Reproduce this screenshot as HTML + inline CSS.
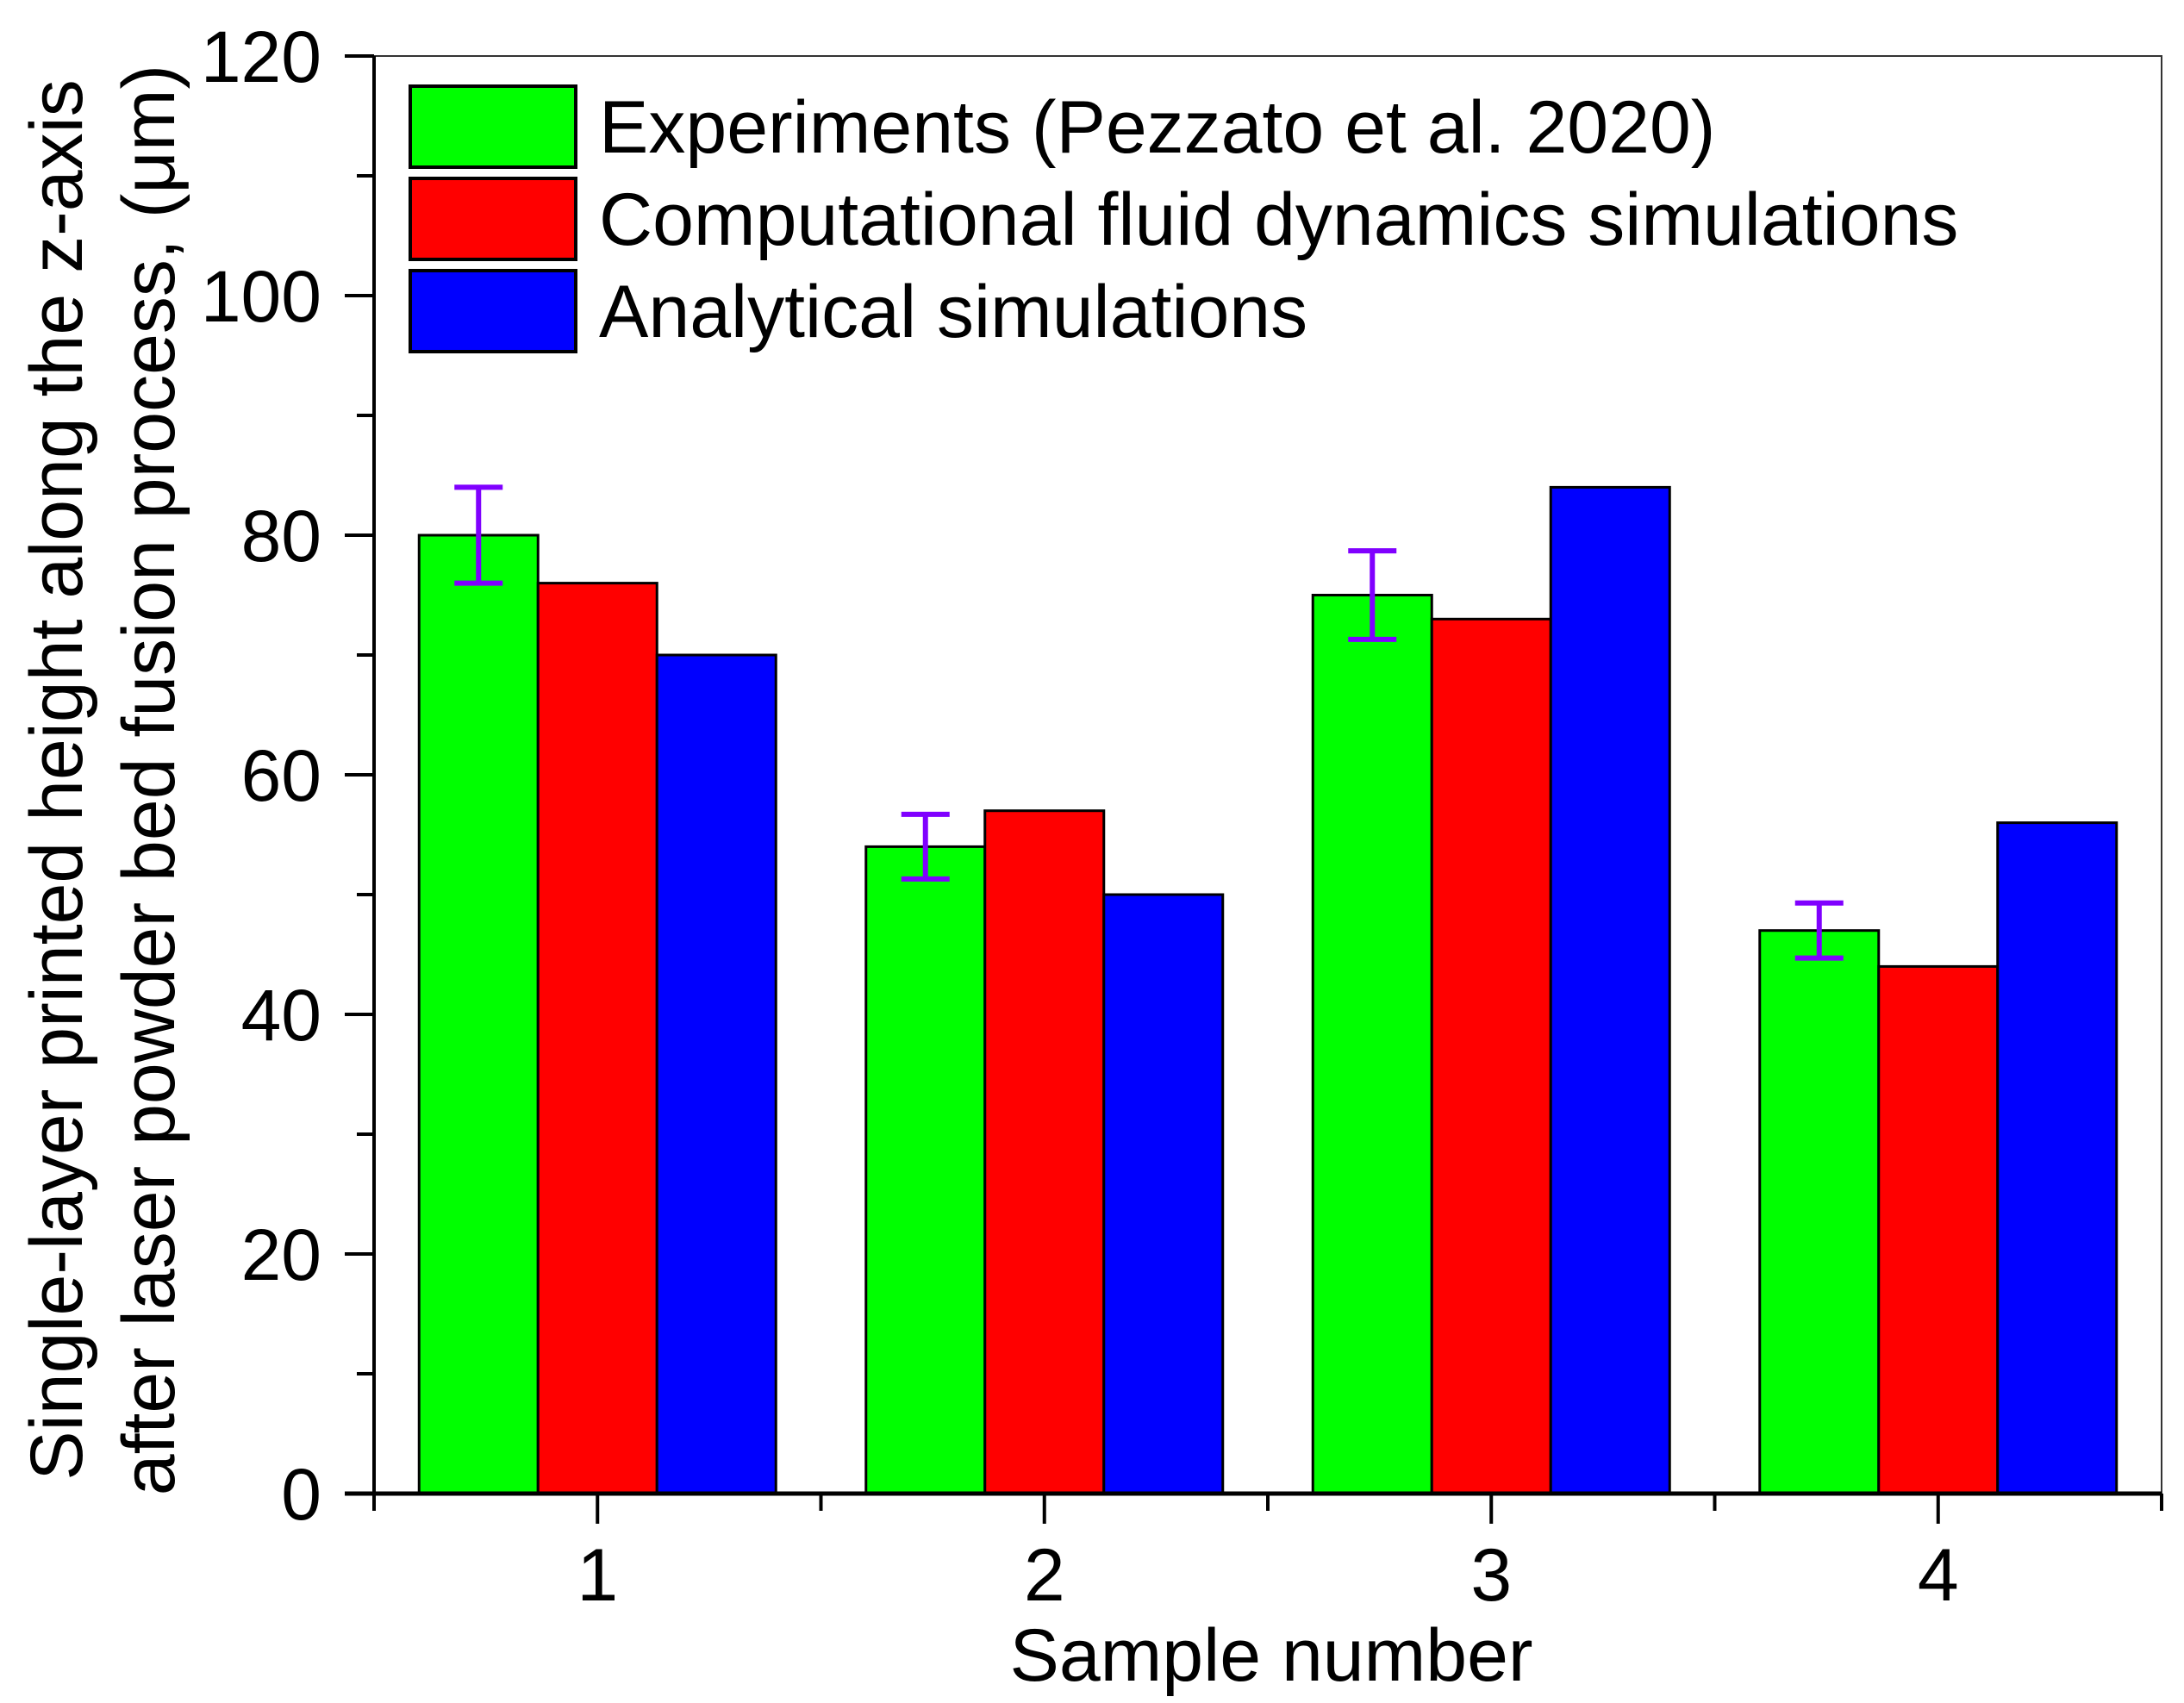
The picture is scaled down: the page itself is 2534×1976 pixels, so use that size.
<!DOCTYPE html>
<html><head><meta charset="utf-8"><style>html,body{margin:0;padding:0;background:#fff}svg{display:block}text{font-family:"Liberation Sans",Arial,sans-serif;fill:#000}</style></head>
<body>
<svg id="chart" width="2534" height="1976" viewBox="0 0 2534 1976" xmlns="http://www.w3.org/2000/svg"></svg>
<script>
const categories = ["1","2","3","4"];
const seriesNames = ["Experiments (Pezzato et al. 2020)","Computational fluid dynamics simulations","Analytical simulations"];
const experiments = [80,54,75,47];
const experimentErrors = [4,2.7,3.7,2.3];
const cfd = [76,57,73,44];
const analytical = [70,50,84,56];
const yTicks = [0,20,40,60,80,100,120];
const colors = ["#00ff00","#ff0000","#0000ff"];

const svg = document.getElementById('chart');
const NS = "http://www.w3.org/2000/svg";
const L=434, R=2508, T=65, B=1733;
const yMin=0, yMax=120;
function y(v){return B-(v-yMin)/(yMax-yMin)*(B-T);}
function x(c){return L+(c-0.5)/4*(R-L);}
function mk(tag, attrs){const e=document.createElementNS(NS,tag);for(const k in attrs)e.setAttribute(k,attrs[k]);svg.appendChild(e);return e;}

let fr=mk('path',{d:`M${L},${T} H${R} V${B}`,fill:'none',stroke:'#333',"stroke-width":2});



const series=[experiments,cfd,analytical];
const barW=138;
series.forEach((s,si)=>{
  s.forEach((v,ci)=>{
    const cx=x(ci+1);
    const bx=cx-1.5*barW+si*barW;
    const r=mk('rect',{x:bx,y:y(v),width:barW,height:B-y(v),fill:colors[si],stroke:'#000',"stroke-width":3});
    
    
  });
});
experiments.forEach((v,ci)=>{
  const cx=x(ci+1)-barW;
  const e=experimentErrors[ci];
  const p=mk('path',{d:`M${cx},${y(v-e)} V${y(v+e)} M${cx-28},${y(v-e)} H${cx+28} M${cx-28},${y(v+e)} H${cx+28}`,stroke:'#8000ff',"stroke-width":6,fill:'none'});
  
  
});

let ax=mk('line',{x1:L,y1:T,x2:L,y2:B+2,stroke:'#000',"stroke-width":4});


let axx=mk('line',{x1:L-34,y1:B,x2:R,y2:B,stroke:'#000',"stroke-width":5});



yTicks.forEach((t,i)=>{
  const tk=mk('line',{x1:L-34,x2:L,y1:y(t),y2:y(t),stroke:'#000',"stroke-width":4});
  
  
  if(i<yTicks.length-1){
    const m=(t+yTicks[i+1])/2;
    const mt=mk('line',{x1:L-20,x2:L,y1:y(m),y2:y(m),stroke:'#000',"stroke-width":4});
    
    
  }
  const tx=mk('text',{x:373,y:y(t)+30,"font-size":84,"text-anchor":"end"});
  tx.textContent=t;
  
  
});
categories.forEach((c,i)=>{
  const cx=x(i+1);
  const tk=mk('line',{x1:cx,x2:cx,y1:B,y2:B+35,stroke:'#000',"stroke-width":4});
  
  
  const tx=mk('text',{x:cx,y:1857,"font-size":86,"text-anchor":"middle"});
  tx.textContent=c;
  
  
});
for(let k=0;k<=4;k++){
  const mx=x(k+0.5);
  const mt=mk('line',{x1:mx,x2:mx,y1:B,y2:B+20,stroke:'#000',"stroke-width":4});
  
  
}

let xt=mk('text',{x:1475,y:1950,"font-size":86,"text-anchor":"middle"});
xt.textContent="Sample number";


let yt1=mk('text',{transform:'translate(95,905) rotate(-90)',"font-size":86,"text-anchor":"middle"});
yt1.textContent="Single-layer printed height along the z-axis";


let yt2=mk('text',{transform:'translate(202,905) rotate(-90)',"font-size":86,"text-anchor":"middle"});
yt2.textContent="after laser powder bed fusion process, (\u03bcm)";



const legY=[100,207,314];
seriesNames.forEach((n,i)=>{
  const r=mk('rect',{x:476,y:legY[i],width:192,height:94,fill:colors[i],stroke:'#000',"stroke-width":4});
  
  
  const t=mk('text',{x:695,y:legY[i]+77,"font-size":86});
  t.textContent=n;
  
  
});
</script>
</body></html>
